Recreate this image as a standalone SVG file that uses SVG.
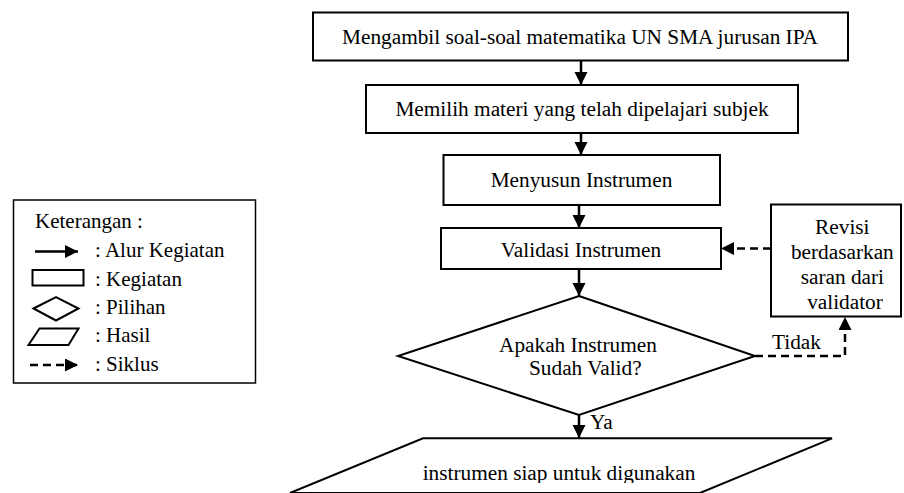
<svg xmlns="http://www.w3.org/2000/svg" width="904" height="493" viewBox="0 0 904 493" font-family="Liberation Serif, serif">
  <style>
    .shape { fill: #fff; stroke: #000; stroke-width: 2; }
    .lbl { font-size: 21.3px; fill: #000; }
    .lg { font-size: 21px; fill: #000; }
    .flow { fill: none; stroke: #000; stroke-width: 2.5; }
    .dash { fill: none; stroke: #000; stroke-width: 2.5; stroke-dasharray: 8 5; }
  </style>
  <defs>
    <marker id="head" markerUnits="userSpaceOnUse" markerWidth="14" markerHeight="14" refX="13" refY="6.5" orient="auto">
      <path d="M0,0 L13,6.5 L0,13 z" fill="#000"/>
    </marker>
    <clipPath id="resultClip">
      <rect x="0" y="0" width="904" height="483"/>
    </clipPath>
  </defs>

  <rect width="904" height="493" fill="#fff"/>

  <!-- process steps -->
  <g id="step-ambil">
    <rect class="shape" x="313" y="12.5" width="535" height="48"/>
    <text class="lbl" x="580" y="43.5" text-anchor="middle">Mengambil soal-soal matematika UN SMA jurusan IPA</text>
  </g>
  <g id="step-pilih">
    <rect class="shape" x="366" y="85" width="432" height="48"/>
    <text class="lbl" x="582" y="115.5" text-anchor="middle">Memilih materi yang telah dipelajari subjek</text>
  </g>
  <g id="step-susun">
    <rect class="shape" x="443.5" y="155" width="276.5" height="50"/>
    <text class="lbl" x="581.5" y="187" text-anchor="middle">Menyusun Instrumen</text>
  </g>
  <g id="step-validasi">
    <rect class="shape" x="441" y="228" width="280" height="41"/>
    <text class="lbl" x="581" y="257" text-anchor="middle">Validasi Instrumen</text>
  </g>
  <g id="decision-valid">
    <polygon class="shape" points="579,296 755,356 579,415 398,356"/>
    <text class="lbl" x="499" y="352">Apakah Instrumen</text>
    <text class="lbl" x="529" y="375">Sudah Valid?</text>
  </g>
  <g id="step-revisi">
    <rect class="shape" x="771" y="204.5" width="130" height="112"/>
    <text class="lbl" text-anchor="middle">
      <tspan x="845" y="233.5">Revisi</tspan>
      <tspan x="845" y="259">berdasarkan</tspan>
      <tspan x="845" y="284">saran dari</tspan>
      <tspan x="845" y="308.5">validator</tspan>
    </text>
  </g>
  <g id="result-siap">
    <polygon class="shape" points="423,438.3 832,438.3 700,493 290,493"/>
    <text class="lbl" x="559" y="480" text-anchor="middle" clip-path="url(#resultClip)">instrumen siap untuk digunakan</text>
  </g>

  <!-- connectors -->
  <g id="connectors">
    <line class="flow" x1="581" y1="61" x2="581" y2="85" marker-end="url(#head)"/>
    <line class="flow" x1="581" y1="133" x2="581" y2="155" marker-end="url(#head)"/>
    <line class="flow" x1="579" y1="205" x2="579" y2="228" marker-end="url(#head)"/>
    <line class="flow" x1="579" y1="269" x2="579" y2="296" marker-end="url(#head)"/>
    <line class="flow" x1="579" y1="415" x2="579" y2="438" marker-end="url(#head)"/>
    <path class="dash" d="M755,356 H845 V317" marker-end="url(#head)"/>
    <line class="dash" x1="771" y1="248.5" x2="721" y2="248.5" marker-end="url(#head)"/>
    <text class="lbl" x="590" y="429">Ya</text>
    <text class="lbl" x="772" y="349">Tidak</text>
  </g>

  <!-- legend -->
  <g id="legend">
    <rect x="13.5" y="200" width="242" height="183" fill="#fff" stroke="#000" stroke-width="1.5"/>
    <text class="lg" x="35" y="228">Keterangan :</text>
    <line class="flow" x1="35" y1="251.5" x2="78" y2="251.5" marker-end="url(#head)"/>
    <text class="lg" x="95" y="257">: Alur Kegiatan</text>
    <rect x="32.5" y="270" width="51" height="15.5" fill="#fff" stroke="#000" stroke-width="2"/>
    <text class="lg" x="95" y="286">: Kegiatan</text>
    <polygon points="33.5,308.5 56,297 78.5,308.5 56,320.5" fill="#fff" stroke="#000" stroke-width="2"/>
    <text class="lg" x="95" y="314">: Pilihan</text>
    <polygon points="39.5,328.5 78.5,328.5 68.5,345 28.5,345" fill="#fff" stroke="#000" stroke-width="2"/>
    <text class="lg" x="95" y="342">: Hasil</text>
    <line class="dash" x1="30" y1="365" x2="78" y2="365" marker-end="url(#head)"/>
    <text class="lg" x="95" y="370.5">: Siklus</text>
  </g>
</svg>
